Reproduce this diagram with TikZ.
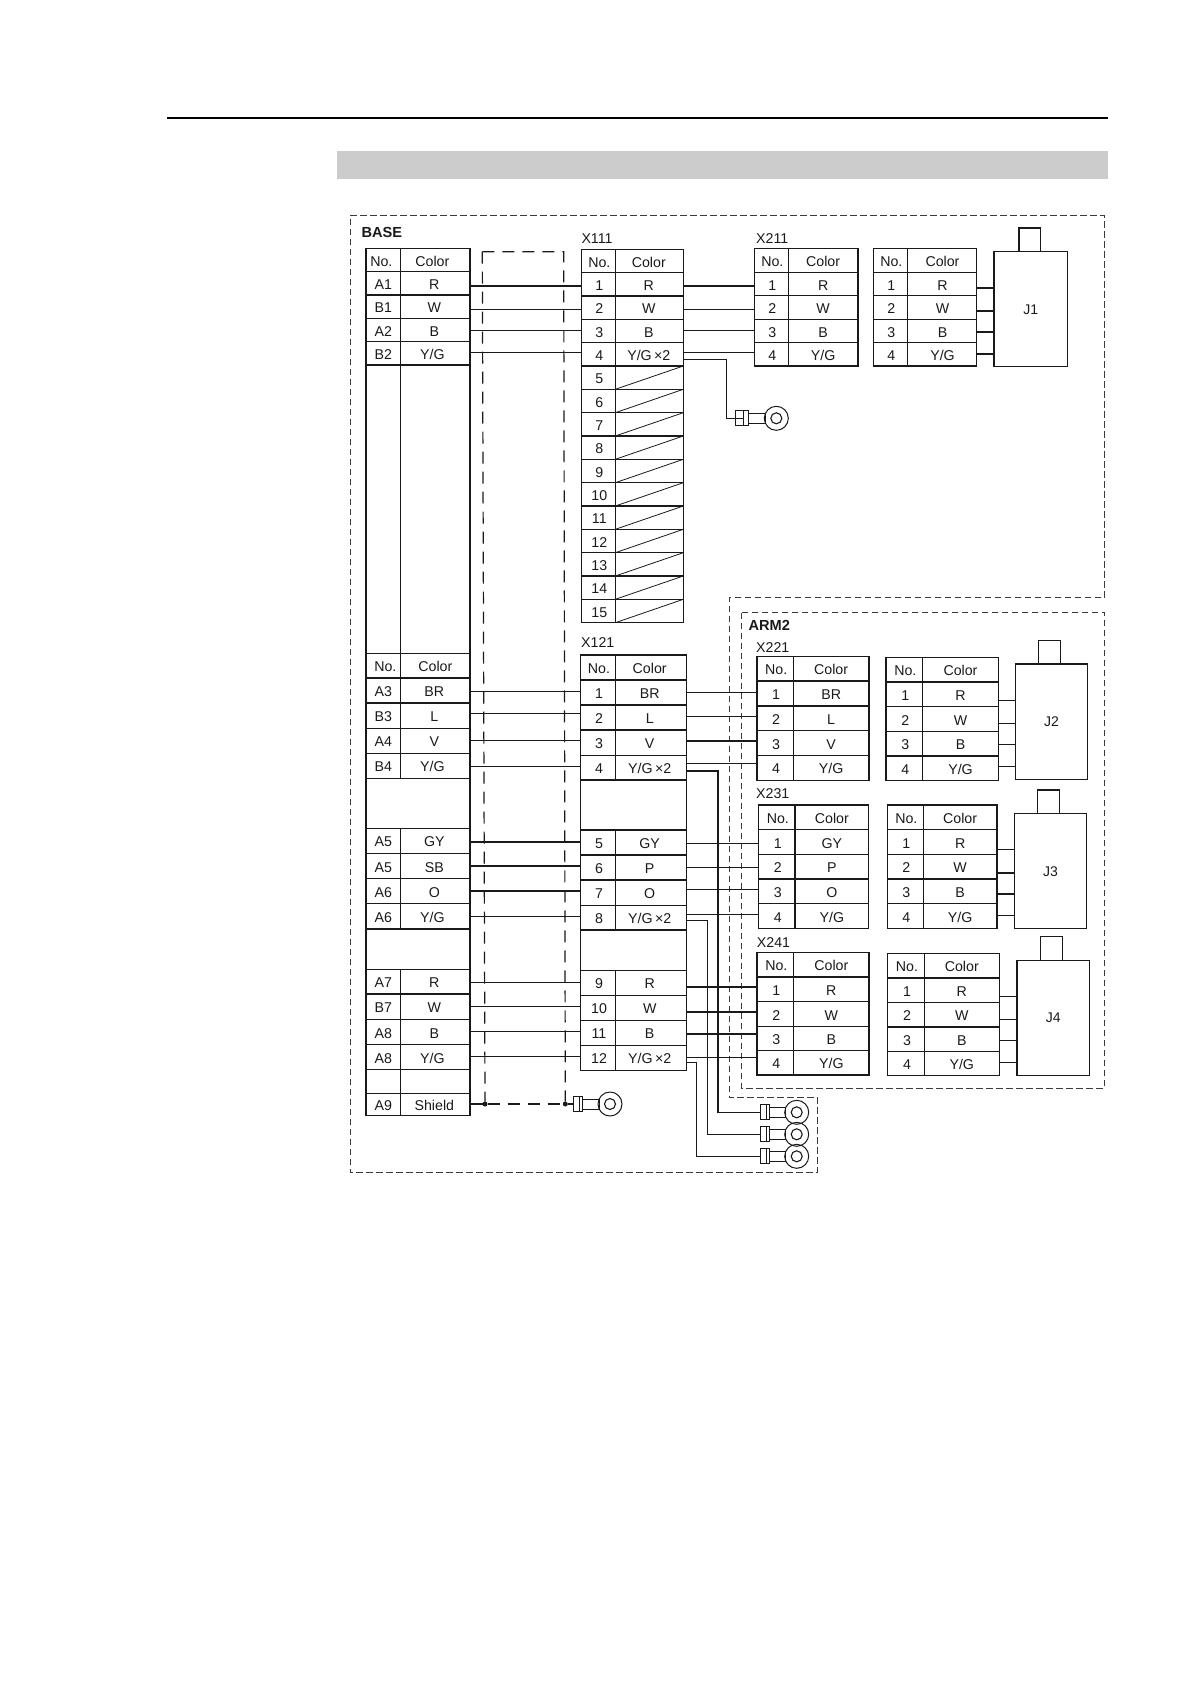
\documentclass[tikz,border=0pt]{standalone}
\usepackage{fontspec}
\setmainfont{Liberation Sans}
\usetikzlibrary{calc}
\definecolor{ink}{HTML}{1A1A1A}
\definecolor{band}{HTML}{CCCCCC}
\definecolor{frame}{HTML}{3A3A3A}
\newcommand\yg{Y/G}
\newcommand\ygl{\kern-2pt Y/G\kern2pt}
\newcommand\ygx{Y/G\,×2}
\newcommand\setcols[5]{\def\xa{#1}\def\xb{#2}\def\xc{#3}\def\na{#4}\def\nb{#5}}
\newcommand\rw[5]{%
  \pgfmathsetmacro\wa{\xb-\xa}\pgfmathsetmacro\wb{\xc-\xb}\pgfmathsetmacro\hh{#3-(#2)}%
  \pgfmathsetmacro\ym{(#2+#3)/2}\pgfmathsetmacro\mxa{(\xa+\xb)/2}\pgfmathsetmacro\mxb{(\xb+\xc)/2}%
  \node[cellbox,minimum width=\wa pt,minimum height=\hh pt] (#1n) at (\mxa,\ym) {\kern\na pt #4\kern-\na pt};
  \node[cellbox,minimum width=\wb pt,minimum height=\hh pt] (#1c) at (\mxb,\ym) {\kern\nb pt #5\kern-\nb pt};
}
\newcommand\mrg[3]{%
  \pgfmathsetmacro\wa{\xc-\xa}\pgfmathsetmacro\hh{#3-(#2)}%
  \pgfmathsetmacro\ym{(#2+#3)/2}\pgfmathsetmacro\mxa{(\xa+\xc)/2}%
  \node[cellbox,minimum width=\wa pt,minimum height=\hh pt] (#1) at (\mxa,\ym) {};
}
\newcommand\wirel[3]{\draw[wire] (#1.east |- 0,#3) -- (#2.west |- 0,#3);}
\newcommand\jbox[9]{%
  \pgfmathsetmacro\wa{#4-#2}\pgfmathsetmacro\hh{#5-#3}\pgfmathsetmacro\mxa{(#2+#4)/2}\pgfmathsetmacro\ym{(#3+#5)/2}%
  \node[motor,minimum width=\wa pt,minimum height=\hh pt] (#1) at (\mxa,\ym) {#9};
  \pgfmathsetmacro\wa{#7-#6}\pgfmathsetmacro\hh{#3-#8}\pgfmathsetmacro\mxa{(#6+#7)/2}\pgfmathsetmacro\ym{(#3+#8)/2}%
  \node[motor,minimum width=\wa pt,minimum height=\hh pt] (#1t) at (\mxa,\ym) {};
}
% name, body left, body width, ring centre x, y, divider offset
\newcommand\ringterm[6]{%
  \pgfmathsetmacro\mxa{#2+#3/2}%
  \node[termbody,minimum width=#3 pt] (#1b) at (\mxa,#5) {};
  \node[ringout] (#1) at (#4,#5) {};
  \node[ringin] (#1i) at (#4,#5) {};
  \draw[termline] ([xshift=#6pt]#1b.north west) -- ([xshift=#6pt]#1b.south west);
  \draw[termline] ([yshift=5pt]#1b.east) -- ([yshift=5pt,xshift=1pt]#1.west) -- ([yshift=-5pt,xshift=1pt]#1.west) -- ([yshift=-5pt]#1b.east);
}
\tikzset{
  x=1pt,y=-1pt,
  cellbox/.style={draw=ink,line width=1.25pt,inner sep=0pt,outer sep=0pt,text=ink,
    font=\fontsize{14.2}{16}\selectfont,text height=12.2pt,text depth=0pt},
  wire/.style={draw=ink,line width=1.15pt},
  diag/.style={draw=ink,line width=.8pt},
  motor/.style={draw=ink,line width=1.1pt,inner sep=0pt,outer sep=0pt,text=ink,
    font=\fontsize{14}{16}\selectfont,text height=10pt,text depth=0pt},
  lbl/.style={anchor=west,inner sep=0pt,text=ink,font=\fontsize{14.2}{16}\selectfont,text height=10.2pt,text depth=0pt},
  boldlbl/.style={anchor=west,inner sep=0pt,text=ink,font=\fontsize{14.6}{16}\selectfont\bfseries,text height=10.4pt,text depth=0pt},
  termbody/.style={draw=ink,line width=1pt,minimum height=15pt,inner sep=0pt,outer sep=0pt},
  termline/.style={draw=ink,line width=1pt},
  ringout/.style={circle,draw=ink,line width=1pt,minimum size=24pt,inner sep=0pt,outer sep=0pt},
  ringin/.style={circle,draw=ink,line width=1.1pt,minimum size=11pt,inner sep=0pt,outer sep=0pt},
  shieldash/.style={draw=ink,line width=1.2pt,dash pattern=on 12pt off 8pt},
  zonedash/.style={draw=frame,line width=.8pt,dash pattern=on 6.5pt off 3.5pt},
  dotn/.style={circle,fill=ink,minimum size=5pt,inner sep=0pt,outer sep=0pt},
}
\begin{document}
\begin{tikzpicture}
\useasboundingbox (0,0) rectangle (1191,1684);
\fill[white] (0,0) rectangle (1191,1684);
% page header
\coordinate (ruleL) at (167,118);
\coordinate (ruleR) at (1108,118);
\draw[black,line width=2pt] (ruleL) -- (ruleR);
\fill[band] (337,151) rectangle (1108,178.7);
% zones
\coordinate (z1) at (350,215.7);
\coordinate (z2) at (1104.7,215.7);
\coordinate (z3) at (1104.7,597.7);
\coordinate (z4) at (729.3,597.7);
\coordinate (z5) at (729.3,1097.7);
\coordinate (z6) at (817.7,1097.7);
\coordinate (z7) at (817.7,1172.3);
\coordinate (z8) at (350,1172.3);
\draw[zonedash] (z1) -- (z2) -- (z3) -- (z4) -- (z5) -- (z6) -- (z7) -- (z8) -- cycle;
\coordinate (arm1) at (741.7,612.7);
\coordinate (arm2) at (1104.7,1088);
\draw[zonedash] (arm1) rectangle (arm2);
\node[boldlbl] (lbase) at (361.3,232) {BASE};
\node[boldlbl] (larm) at (748.3,625) {ARM2};
\node[lbl] (lx111) at (581.3,238) {X111};
\node[lbl] (lx211) at (756,238) {X211};
\node[lbl] (lx121) at (581,642.7) {X121};
\node[lbl] (lx221) at (756,647) {X221};
\node[lbl] (lx231) at (756,793.7) {X231};
\node[lbl] (lx241) at (756.7,942.3) {X241};
% left table
\setcols{366}{400.7}{470}{-2}{-3}
\rw{a0}{248.3}{271.7}{No.}{Color}
\setcols{366}{400.7}{470}{0}{-1}
\rw{a1}{271.7}{295}{A1}{R}
\rw{a2}{295}{318.3}{B1}{W}
\rw{a3}{318.3}{341.7}{A2}{B}
\rw{a4}{341.7}{365}{B2}{\ygl}
\rw{aL}{365}{653.3}{}{}
\setcols{366}{400.7}{470}{2}{0}
\rw{a5}{653.3}{678}{No.}{Color}
\setcols{366}{400.7}{470}{0}{-1}
\rw{a6}{678}{703}{A3}{BR}
\rw{a7}{703}{728.3}{B3}{L}
\rw{a8}{728.3}{753.3}{A4}{V}
\rw{a9}{753.3}{778.3}{B4}{\ygl}
\mrg{aM1}{778.3}{828.3}
\rw{a10}{828.3}{853.3}{A5}{GY}
\rw{a11}{853.3}{878.7}{A5}{SB}
\rw{a12}{878.7}{903.7}{A6}{O}
\rw{a13}{903.7}{929}{A6}{\ygl}
\mrg{aM2}{929}{969.3}
\rw{a14}{969.3}{994}{A7}{R}
\rw{a15}{994}{1019.3}{B7}{W}
\rw{a16}{1019.3}{1044.7}{A8}{B}
\rw{a17}{1044.7}{1069.3}{A8}{\ygl}
\rw{a18}{1069.3}{1093.3}{}{}
\rw{a19}{1093.3}{1115.3}{A9}{Shield}
% X111
\setcols{581.3}{615.3}{683.3}{1}{-0.5}
\rw{b0}{249.3}{272.7}{No.}{Color}
\rw{b1}{272.7}{296}{1}{R}
\rw{b2}{296}{319.3}{2}{W}
\rw{b3}{319.3}{342.7}{3}{B}
\rw{b4}{342.7}{366}{4}{\ygx}
\foreach \i/\ya/\yb in {5/366/389.3,6/389.3/412.7,7/412.7/436,8/436/459.3,9/459.3/482.7,10/482.7/506,11/506/529.3,12/529.3/552.7,13/552.7/576,14/576/599.3,15/599.3/622.7}{
  \rw{b\i}{\ya}{\yb}{\i}{}
  \draw[diag] (b\i c.south west) -- (b\i c.north east);
}
% X211
\setcols{754.3}{788.3}{858}{1}{0}
\rw{c0}{248.3}{272.3}{No.}{Color}
\rw{c1}{272.3}{295.7}{1}{R}
\rw{c2}{295.7}{319.3}{2}{W}
\rw{c3}{319.3}{342.7}{3}{B}
\rw{c4}{342.7}{366}{4}{\yg}
% J1 side
\setcols{873.3}{907.3}{976.7}{1}{0.5}
\rw{d0}{248.3}{272.3}{No.}{Color}
\rw{d1}{272.3}{295.7}{1}{R}
\rw{d2}{295.7}{319.3}{2}{W}
\rw{d3}{319.3}{342.7}{3}{B}
\rw{d4}{342.7}{366}{4}{\yg}
\jbox{j1}{994}{251.3}{1067.7}{366.7}{1019}{1040.7}{228}{J1}
% X121
\setcols{580.3}{615.7}{686.7}{1}{-1.5}
\rw{e0}{655}{680}{No.}{Color}
\rw{e1}{680}{705}{1}{BR}
\rw{e2}{705}{730}{2}{L}
\rw{e3}{730}{755.3}{3}{V}
\rw{e4}{755.3}{780}{4}{\ygx}
\mrg{eM1}{780}{830}
\rw{e5}{830}{855}{5}{GY}
\rw{e6}{855}{880}{6}{P}
\rw{e7}{880}{905.3}{7}{O}
\rw{e8}{905.3}{930}{8}{\ygx}
\mrg{eM2}{930}{970.3}
\rw{e9}{970.3}{995.3}{9}{R}
\rw{e10}{995.3}{1020.3}{10}{W}
\rw{e11}{1020.3}{1045.3}{11}{B}
\rw{e12}{1045.3}{1070.3}{12}{\ygx}
% X221
\setcols{757}{793.3}{869}{1}{0}
\rw{f0}{656.7}{681}{No.}{Color}
\rw{f1}{681}{706}{1}{BR}
\rw{f2}{706}{730.7}{2}{L}
\rw{f3}{730.7}{755.3}{3}{V}
\rw{f4}{755.3}{780.3}{4}{\yg}
\setcols{886}{922.7}{998.3}{1}{0}
\rw{g0}{657.3}{682}{No.}{Color}
\rw{g1}{682}{706.7}{1}{R}
\rw{g2}{706.7}{731.3}{2}{W}
\rw{g3}{731.3}{756}{3}{B}
\rw{g4}{756}{780.7}{4}{\yg}
\jbox{j2}{1015.3}{664}{1087.7}{779.7}{1038.7}{1060.7}{640.7}{J2}
% X231
\setcols{758.7}{795}{868.7}{1}{0}
\rw{h0}{805}{829.7}{No.}{Color}
\rw{h1}{829.7}{854.3}{1}{GY}
\rw{h2}{854.3}{879}{2}{P}
\rw{h3}{879}{903.7}{3}{O}
\rw{h4}{903.7}{928.3}{4}{\yg}
\setcols{887.3}{923.3}{997}{1}{0}
\rw{k0}{805}{829.7}{No.}{Color}
\rw{k1}{829.7}{854.3}{1}{R}
\rw{k2}{854.3}{879}{2}{W}
\rw{k3}{879}{903.7}{3}{B}
\rw{k4}{903.7}{928.3}{4}{\yg}
\jbox{j3}{1014.3}{813.3}{1086.7}{928.7}{1037.7}{1059.7}{790}{J3}
% X241
\setcols{757}{793.7}{869}{1}{0}
\rw{m0}{952.7}{977}{No.}{Color}
\rw{m1}{977}{1001.7}{1}{R}
\rw{m2}{1001.7}{1026.3}{2}{W}
\rw{m3}{1026.3}{1050.7}{3}{B}
\rw{m4}{1050.7}{1075}{4}{\yg}
\setcols{887.7}{924.3}{999.3}{1}{0}
\rw{n0}{953.3}{978}{No.}{Color}
\rw{n1}{978}{1002.7}{1}{R}
\rw{n2}{1002.7}{1027}{2}{W}
\rw{n3}{1027}{1051.3}{3}{B}
\rw{n4}{1051.3}{1075.7}{4}{\yg}
\jbox{j4}{1017}{960.3}{1089.3}{1075.3}{1040.7}{1062.3}{936.7}{J4}
% shield
\node[dotn] (sd1) at (485,1104) {};
\node[dotn] (sd2) at (565.3,1104) {};
\coordinate (stl) at (482.3,251.7);
\coordinate (str) at (563.7,251.7);
\draw[shieldash] (stl) -- (str) -- (sd2);
\draw[shieldash] (stl) -- (sd1);
\draw[shieldash] (sd1) -- (sd2);
\draw[wire] (a19c.east |- sd1) -- (sd1);
% wires left to middle
\wirel{a1c}{b1n}{286}
\wirel{a2c}{b2n}{309.3}
\wirel{a3c}{b3n}{330.3}
\wirel{a4c}{b4n}{352.3}
\wirel{a6c}{e1n}{691.3}
\wirel{a7c}{e2n}{713.3}
\wirel{a8c}{e3n}{740.7}
\wirel{a9c}{e4n}{766.3}
\wirel{a10c}{e5n}{842}
\wirel{a11c}{e6n}{866}
\wirel{a12c}{e7n}{891}
\wirel{a13c}{e8n}{916.3}
\wirel{a14c}{e9n}{982.7}
\wirel{a15c}{e10n}{1006.7}
\wirel{a16c}{e11n}{1031.7}
\wirel{a17c}{e12n}{1056.7}
% wires middle to right
\wirel{b1c}{c1n}{286}
\wirel{b2c}{c2n}{309.3}
\wirel{b3c}{c3n}{330.3}
\wirel{b4c}{c4n}{352.3}
\wirel{e1c}{f1n}{692.3}
\wirel{e2c}{f2n}{716.3}
\wirel{e3c}{f3n}{741}
\wirel{e4c}{f4n}{763.3}
\wirel{e5c}{h1n}{843.7}
\wirel{e6c}{h2n}{867.7}
\wirel{e7c}{h3n}{889.3}
\wirel{e8c}{h4n}{914.3}
\wirel{e9c}{m1n}{987}
\wirel{e10c}{m2n}{1012}
\wirel{e11c}{m3n}{1034}
\wirel{e12c}{m4n}{1057.7}
% stubs
\wirel{d1c}{j1}{288}
\wirel{d2c}{j1}{311}
\wirel{d3c}{j1}{332}
\wirel{d4c}{j1}{354}
\wirel{g1c}{j2}{700.3}
\wirel{g2c}{j2}{723.7}
\wirel{g3c}{j2}{744.7}
\wirel{g4c}{j2}{766.3}
\wirel{k1c}{j3}{849.7}
\wirel{k2c}{j3}{873}
\wirel{k3c}{j3}{894}
\wirel{k4c}{j3}{915.3}
\wirel{n1c}{j4}{996.3}
\wirel{n2c}{j4}{1019.7}
\wirel{n3c}{j4}{1040.3}
\wirel{n4c}{j4}{1062.3}
% terminals
\ringterm{t0}{735.7}{12.6}{776.3}{418.3}{7.6}
\ringterm{t1}{573.3}{9}{610}{1104}{6.5}
\ringterm{t2}{760}{9}{796.7}{1112.3}{6.5}
\ringterm{t3}{760}{9}{796.7}{1134.3}{6.5}
\ringterm{t4}{760}{9}{796.7}{1156.3}{6.5}
\coordinate (bt0) at (726.3,418.3);
\coordinate (bt2) at (718,1112.3);
\coordinate (bt3) at (707.3,1134.3);
\coordinate (bt4) at (696.3,1156.3);
\draw[wire] (b4c.east |- 0,359.7) -| (bt0) -- ([xshift=7.6pt]t0b.west);
\draw[wire] (e4c.east |- 0,771) -| (bt2) -- (t2b.west);
\draw[wire] (e8c.east |- 0,920.3) -| (bt3) -- (t3b.west);
\draw[wire] (e12c.east |- 0,1062.7) -| (bt4) -- (t4b.west);
\draw[wire] (sd2) -- (t1b.west);
\end{tikzpicture}
\end{document}
